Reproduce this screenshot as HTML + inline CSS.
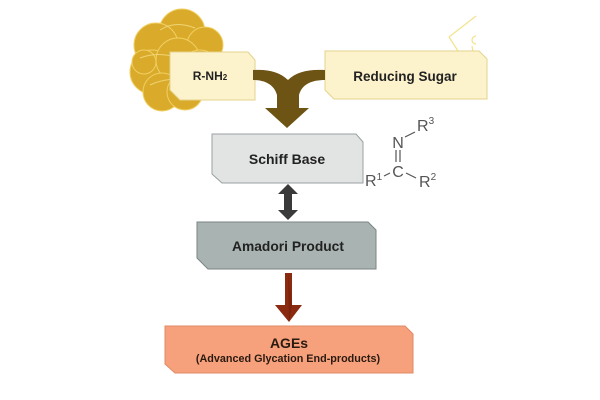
<!DOCTYPE html>
<html><head><meta charset="utf-8"><style>
html,body{margin:0;padding:0;background:#fff;}
svg{display:block;}
text{font-family:"Liberation Sans",Arial,sans-serif;}
</style></head><body>
<svg width="600" height="400" viewBox="0 0 600 400" xmlns="http://www.w3.org/2000/svg">
<rect width="600" height="400" fill="#fff"/>
<!-- gold blob -->
<g fill="#daab2b" stroke="#f0cf62" stroke-width="1">
<circle cx="182" cy="32" r="23"/>
<circle cx="205" cy="45" r="18"/>
<circle cx="156" cy="45" r="22"/>
<circle cx="152" cy="72" r="22"/>
<circle cx="178" cy="60" r="22"/>
<circle cx="200" cy="70" r="20"/>
<circle cx="162" cy="92" r="19"/>
<circle cx="185" cy="92" r="18"/>
<circle cx="144" cy="62" r="12"/>
</g>
<g fill="none" stroke="#f5de86" stroke-width="1" opacity="0.8">
<path d="M160 30 Q175 20 195 28"/><path d="M140 58 Q160 50 185 60"/><path d="M150 85 Q170 75 200 82"/>
</g>
<!-- top-right decoration -->
<g stroke="#f0dc70" stroke-width="1.2" fill="none" opacity="0.8">
<path d="M449 37 L476 16"/><path d="M449 37 L458 51"/><path d="M476 36 a4 4 0 1 0 0 8"/><path d="M472 46 L473 52"/>
</g>
<!-- yellow boxes -->
<path d="M170 52 H248 L255 60 V100 H180 L170 90 Z" fill="#fcf3cc" stroke="#e3d38c" stroke-width="1"/>
<path d="M325 51 H479 L487 59 V99 H334 L325 90 Z" fill="#fcf3cc" stroke="#e3d38c" stroke-width="1"/>
<text x="210" y="80" font-size="12" font-weight="bold" fill="#222" text-anchor="middle">R-NH<tspan font-size="8">2</tspan></text>
<text x="405" y="81" font-size="13.5" font-weight="bold" fill="#222" text-anchor="middle">Reducing Sugar</text>
<!-- brown merging arrow -->
<path d="M253 70 C268 69 280 72 288 80 C296 72 308 69 325 70 V80 C312 80 302 84 299 95 V108 H309 L287 128 L265 108 H277 V95 C274 84 264 80 253 80 Z" fill="#6e5414"/>
<!-- Schiff Base -->
<path d="M212 134 H356 L363 142 V183 H222 L212 174 Z" fill="#e2e4e4" stroke="#9aa0a0" stroke-width="1"/>
<text x="287" y="164" font-size="14" font-weight="bold" fill="#222" text-anchor="middle">Schiff Base</text>
<!-- double arrow -->
<path d="M288 184 L298 194 H292 V210 H298 L288 220 L278 210 H284 V194 H278 Z" fill="#3a3a3a"/>
<!-- Amadori -->
<path d="M197 222 H368 L376 230 V269 H208 L197 258 Z" fill="#a9b4b2" stroke="#7a8684" stroke-width="1"/>
<text x="288" y="251" font-size="13.8" font-weight="bold" fill="#222" text-anchor="middle">Amadori Product</text>
<!-- red arrow -->
<path d="M285 273 H292 V305 H302 L289 322 L275 305 H285 Z" fill="#8a2a10"/>
<path d="M288 273 L292 305 L289 322 Z" fill="#6a1a08" opacity="0.4"/>
<!-- AGEs -->
<path d="M165 326 H405 L413 334 V373 H175 L165 364 Z" fill="#f6a07c" stroke="#e08a66" stroke-width="1"/>
<text x="289" y="348" font-size="14" font-weight="bold" fill="#2a1a10" text-anchor="middle">AGEs</text>
<text x="288" y="362" font-size="10.8" font-weight="bold" fill="#2a1a10" text-anchor="middle">(Advanced Glycation End-products)</text>
<!-- chemical structure -->
<g fill="#555" font-size="16">
<text x="398" y="148" text-anchor="middle">N</text>
<text x="417" y="131">R<tspan font-size="10" dy="-7">3</tspan></text>
<text x="398" y="177" text-anchor="middle">C</text>
<text x="365" y="186">R<tspan font-size="10" dy="-6">1</tspan></text>
<text x="419" y="187">R<tspan font-size="10" dy="-7">2</tspan></text>
</g>
<g stroke="#555" stroke-width="1.2">
<line x1="405" y1="137" x2="415" y2="132"/>
<line x1="396" y1="150" x2="396" y2="162"/>
<line x1="400" y1="150" x2="400" y2="162"/>
<line x1="384" y1="176" x2="390" y2="173"/>
<line x1="406" y1="173" x2="416" y2="178"/>
</g>
</svg>
</body></html>
